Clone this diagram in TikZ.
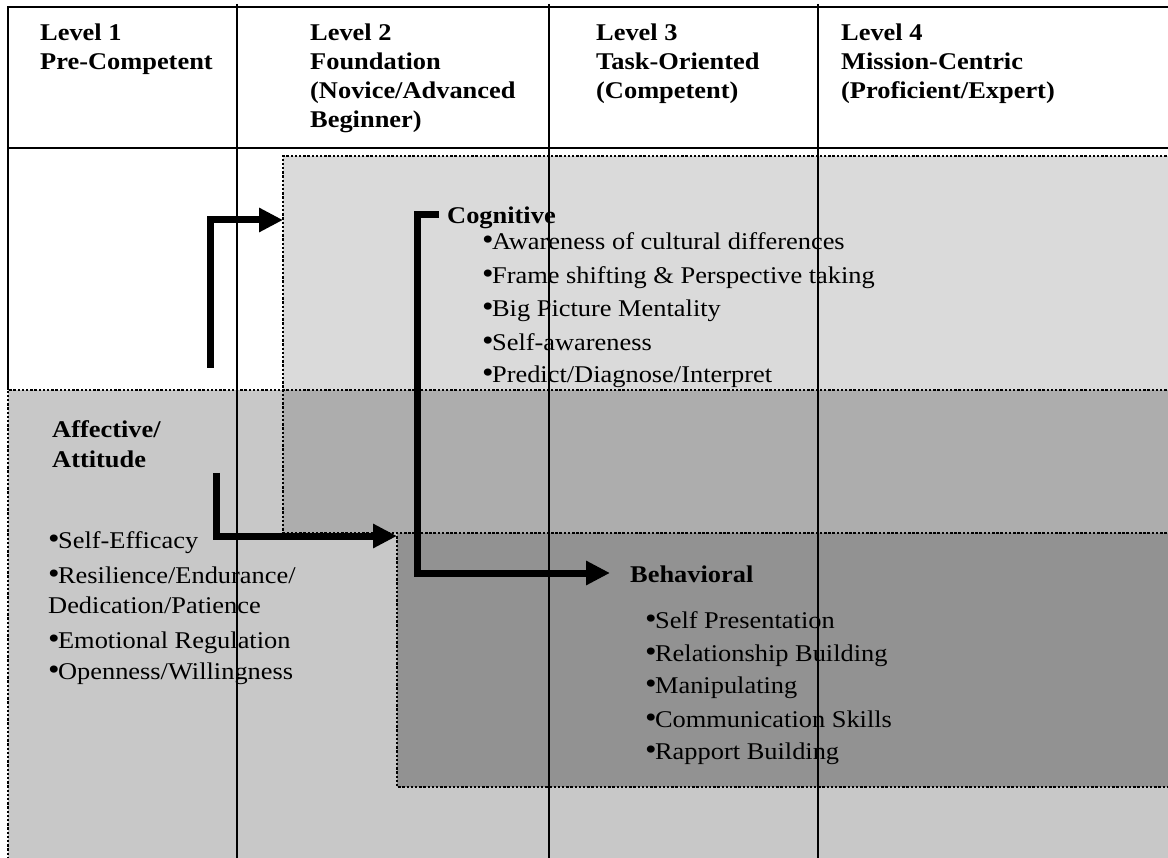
\documentclass[tikz,border=0pt]{standalone}
\usepackage{fontspec}
\setmainfont{Liberation Serif}
\usepackage{graphicx}
\usetikzlibrary{arrows.meta}

\definecolor{cogc}{HTML}{DADADA}
\definecolor{affc}{HTML}{C8C8C8}
\definecolor{ovlc}{HTML}{ADADAD}
\definecolor{behc}{HTML}{929292}

\newcommand{\sx}[1]{\scalebox{1.1}[1]{#1}}
\newcommand{\bul}{\makebox[9pt][l]{\fontsize{30}{30}\selectfont •}}

\begin{document}
\begin{tikzpicture}[x=1pt,y=-1pt,
  hdr/.style={anchor=base west, inner sep=0pt, font=\fontsize{24}{29}\selectfont\bfseries},
  body/.style={anchor=base west, inner sep=0pt, font=\fontsize{24}{29}\selectfont},
  region/.style={draw=black, line width=2.6pt, dash pattern=on 2.4pt off 1.8pt},
  rulebold/.style={draw=black, line width=2pt},
  rulethin/.style={draw=black, line width=1.5pt},
  bigarrow/.style={draw=black, line width=7pt, line join=miter, -{Triangle[length=24pt,width=23pt]}}]

\useasboundingbox (0,0) rectangle (1168,858);
\clip (0,0) rectangle (1168,858);
\fill[white] (0,0) rectangle (1168,858);

% shaded regions
\fill[cogc] (283,156) rectangle (1170,390);
\fill[affc] (8,390) rectangle (1170,860);
\fill[ovlc] (283,390) rectangle (1170,533);
\fill[behc] (397,533) rectangle (1170,787);

% dotted region borders
\draw[region] (1175,156) -- (283,156) -- (283,533) -- (1175,533);
\draw[region] (1175,390) -- (8,390) -- (8,870);
\draw[region] (1175,533) -- (397,533) -- (397,787) -- (1175,787);

% header texts
\node[hdr] (l1a) at (40,41) {\sx{Level 1}};
\node[hdr] (l1b) at (40,70) {\sx{Pre-Competent}};
\node[hdr] (l2a) at (310,41) {\sx{Level 2}};
\node[hdr] (l2b) at (310,70) {\sx{Foundation}};
\node[hdr] (l2c) at (310,99) {\sx{(Novice/Advanced}};
\node[hdr] (l2d) at (310,128) {\sx{Beginner)}};
\node[hdr] (l3a) at (596,41) {\sx{Level 3}};
\node[hdr] (l3b) at (596,70) {\sx{Task-Oriented}};
\node[hdr] (l3c) at (596,99) {\sx{(Competent)}};
\node[hdr] (l4a) at (841,41) {\sx{Level 4}};
\node[hdr] (l4b) at (841,70) {\sx{Mission-Centric}};
\node[hdr] (l4c) at (841,99) {\sx{(Proficient/Expert)}};

% cognitive
\node[hdr] (cog) at (447,224) {\sx{Cognitive}};
\node[body] (c1) at (482,250) {\sx{\bul Awareness of cultural differences}};
\node[body] (c2) at (482,284) {\sx{\bul Frame shifting \& Perspective taking}};
\node[body] (c3) at (482,317) {\sx{\bul Big Picture Mentality}};
\node[body] (c4) at (482,350.5) {\sx{\bul Self-awareness}};
\node[body] (c5) at (482,383) {\sx{\bul Predict/Diagnose/Interpret}};

% affective
\node[hdr] (aff1) at (52,438) {\sx{Affective/}};
\node[hdr] (aff2) at (52,468) {\sx{Attitude}};
\node[body] (a1) at (48,548) {\sx{\bul Self-Efficacy}};
\node[body] (a2) at (48,583) {\sx{\bul Resilience/Endurance/}};
\node[body] (a2b) at (48,613) {\sx{Dedication/Patience}};
\node[body] (a3) at (48,648) {\sx{\bul Emotional Regulation}};
\node[body] (a4) at (48,679) {\sx{\bul Openness/Willingness}};

% behavioral
\node[hdr] (beh) at (630,582) {\sx{Behavioral}};
\node[body] (b1) at (645,628) {\sx{\bul Self Presentation}};
\node[body] (b2) at (645,661) {\sx{\bul Relationship Building}};
\node[body] (b3) at (645,693.5) {\sx{\bul Manipulating}};
\node[body] (b4) at (645,727) {\sx{\bul Communication Skills}};
\node[body] (b5) at (645,759) {\sx{\bul Rapport Building}};

% table rules
\draw[rulebold] (8,390) -- (8,7) -- (1175,7);
\draw[rulebold] (8,148) -- (1175,148);
\draw[rulethin] (237,4) -- (237,870);
\draw[rulethin] (549,4) -- (549,870);
\draw[rulethin] (818,4) -- (818,870);

% arrows
\coordinate (a1s) at (210,368);
\coordinate (a1t) at (283,220);
\draw[bigarrow] (a1s) |- (a1t);

\coordinate (a2s) at (439,215);
\coordinate (a2c) at (417,215);
\coordinate (a2t) at (610,573);
\draw[bigarrow] (a2s) -- (a2c) |- (a2t);

\coordinate (a3s) at (216,473);
\coordinate (a3t) at (397,536);
\draw[bigarrow] (a3s) |- (a3t);

\end{tikzpicture}
\end{document}
